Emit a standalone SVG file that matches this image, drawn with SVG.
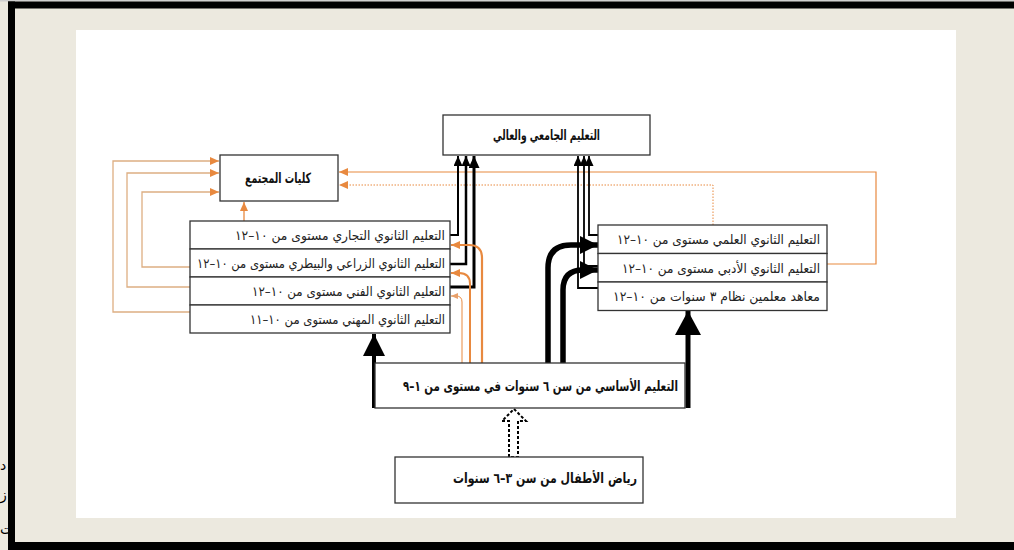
<svg xmlns="http://www.w3.org/2000/svg" width="1014" height="550" viewBox="0 0 1014 550">
<defs>
<style>
.box{fill:#fff;stroke:#333;stroke-width:1.3}
.t{font-family:"DejaVu Sans",sans-serif;font-size:13px;fill:#222;text-anchor:end}
.tb{font-family:"DejaVu Sans",sans-serif;font-size:14px;font-weight:bold;fill:#111}
.k{fill:none;stroke:#000}
.o{fill:none;stroke:#E8893F}
.ol{fill:none;stroke:#DDAE82;stroke-width:1.3}
</style>
<marker id="ak" markerUnits="userSpaceOnUse" markerWidth="10" markerHeight="9" refX="10" refY="4.5" orient="auto"><path d="M0,0 L10,4.5 L0,9 z" fill="#000"/></marker>
<marker id="akm" markerUnits="userSpaceOnUse" markerWidth="12" markerHeight="11" refX="12" refY="5.5" orient="auto"><path d="M0,0 L12,5.5 L0,11 z" fill="#000"/></marker>
<marker id="akl" markerUnits="userSpaceOnUse" markerWidth="18" markerHeight="18" refX="18" refY="9" orient="auto"><path d="M0,0 L18,9 L0,18 z" fill="#000"/></marker>
<marker id="akx" markerUnits="userSpaceOnUse" markerWidth="24" markerHeight="26" refX="24" refY="13" orient="auto"><path d="M0,0 L24,13 L0,26 z" fill="#000"/></marker>
<marker id="akw" markerUnits="userSpaceOnUse" markerWidth="22" markerHeight="22" refX="22" refY="11" orient="auto"><path d="M0,0 L22,11 L0,22 z" fill="#000"/></marker>
<marker id="ao" markerUnits="userSpaceOnUse" markerWidth="9" markerHeight="8" refX="9" refY="4" orient="auto"><path d="M0,0 L9,4 L0,8 z" fill="#E8893F"/></marker>
<marker id="aos" markerUnits="userSpaceOnUse" markerWidth="7" markerHeight="6" refX="7" refY="3" orient="auto"><path d="M0,0 L7,3 L0,6 z" fill="#E8A06A"/></marker>
</defs>
<rect x="0" y="0" width="1014" height="550" fill="#ECE9DF"/>
<g id="edge-text" font-family="DejaVu Sans, sans-serif" font-size="14" fill="#000">
<text x="0" y="470">د</text>
<text x="0" y="500">ز</text>
<text x="0" y="534">ت</text>
</g>
<rect x="0" y="0" width="1014" height="1.5" fill="#cfcfcf"/>
<rect x="8" y="1.5" width="1006" height="7" fill="#000"/>
<rect x="8" y="1.5" width="7" height="548.5" fill="#000"/>
<rect x="8" y="542" width="1006" height="8" fill="#000"/>
<rect x="76" y="30" width="880" height="488" fill="#fff"/>
<g id="connectors">
<path class="ol" d="M190,312 H113 V161 H219" marker-end="url(#ao)"/>
<path class="ol" d="M190,287 H127 V173 H219" marker-end="url(#ao)"/>
<path class="ol" d="M190,267 H142 V192 H219" marker-end="url(#ao)"/>
<path class="o" stroke-width="1.3" d="M244,221 V202" marker-end="url(#ao)"/>
<path class="o" stroke-width="1.2" stroke="#E8A874" d="M827,264 H876 V172 H339" marker-end="url(#ao)"/>
<path class="o" stroke-width="1" stroke-dasharray="1.5 1.5" d="M713,225 V185 H339" marker-end="url(#ao)"/>
<path class="k" stroke-width="2" d="M450,235 H458 V156" marker-end="url(#ak)"/>
<path class="k" stroke-width="2.5" d="M450,264 H466 V156" marker-end="url(#ak)"/>
<path class="k" stroke-width="3" d="M450,287 H474 V156" marker-end="url(#akm)"/>
<path class="k" stroke-width="1.8" d="M598,235 H589 V156" marker-end="url(#ak)"/>
<path class="k" stroke-width="1.8" d="M598,266 H584 V156" marker-end="url(#ak)"/>
<path class="k" stroke-width="1.8" d="M598,288 H578 V156" marker-end="url(#ak)"/>
<path class="o" stroke-width="2.2" d="M482,363 V258 Q482,245 469,245 H451" marker-end="url(#ao)"/>
<path class="o" stroke-width="2" d="M470,363 V284 Q470,273 459,273 H451" marker-end="url(#ao)"/>
<path class="o" stroke-width="1" stroke="#E8A06A" d="M462,363 V302 Q462,296 456,296 H451" marker-end="url(#aos)"/>
<path class="k" stroke-width="5.5" d="M548,363 V268 Q548,245 571,245 H598" marker-end="url(#akl)"/>
<path class="k" stroke-width="5.5" d="M563,363 V290 Q563,270 583,270 H598" marker-end="url(#akl)"/>
<path class="k" stroke-width="5" d="M688,408 V311" marker-end="url(#akx)"/>
<path class="k" stroke-width="4" d="M374,408 V334" marker-end="url(#akw)"/>
<polygon points="509,457 509,421 502,421 514,409 526,421 518,421 518,457" fill="#fff" stroke="#000" stroke-width="2" stroke-dasharray="3 2"/>
</g>
<g id="n-university">
<rect class="box" x="443" y="115" width="207" height="40"/>
<text class="tb" x="600" y="140" text-anchor="end" textLength="107" lengthAdjust="spacingAndGlyphs">التعليم الجامعي والعالي</text>
</g>
<g id="n-colleges">
<rect class="box" x="220" y="155" width="118" height="46"/>
<text class="tb" x="311" y="183" text-anchor="end" textLength="66" lengthAdjust="spacingAndGlyphs">كليات المجتمع</text>
</g>
<g id="n-left-stack">
<rect class="box" x="190" y="221" width="260" height="28"/>
<rect class="box" x="190" y="249" width="260" height="28"/>
<rect class="box" x="190" y="277" width="260" height="28"/>
<rect class="box" x="190" y="305" width="260" height="28"/>
<text class="t" x="445" y="240" textLength="210" lengthAdjust="spacingAndGlyphs">التعليم الثانوي التجاري مستوى من ١٠–١٢</text>
<text class="t" x="445" y="268" textLength="248" lengthAdjust="spacingAndGlyphs">التعليم الثانوي الزراعي والبيطري مستوى من ١٠–١٢</text>
<text class="t" x="445" y="296" textLength="193" lengthAdjust="spacingAndGlyphs">التعليم الثانوي الفني مستوى من ١٠–١٢</text>
<text class="t" x="445" y="324" textLength="195" lengthAdjust="spacingAndGlyphs">التعليم الثانوي المهني مستوى من ١٠–١١</text>
</g>
<g id="n-right-stack">
<rect class="box" x="598" y="225" width="229" height="28.5"/>
<rect class="box" x="598" y="253.5" width="229" height="28.5"/>
<rect class="box" x="598" y="282" width="229" height="28.5"/>
<text class="t" x="820" y="244" textLength="203" lengthAdjust="spacingAndGlyphs">التعليم الثانوي العلمي مستوى من ١٠–١٢</text>
<text class="t" x="820" y="273" textLength="198" lengthAdjust="spacingAndGlyphs">التعليم الثانوي الأدبي مستوى من ١٠–١٢</text>
<text class="t" x="820" y="301" textLength="207" lengthAdjust="spacingAndGlyphs">معاهد معلمين نظام ٣ سنوات من ١٠–١٢</text>
</g>
<g id="n-basic">
<rect class="box" x="375" y="363" width="310" height="45"/>
<text class="tb" x="678" y="391" text-anchor="end" font-size="15" textLength="275" lengthAdjust="spacingAndGlyphs">التعليم الأساسي من سن ٦ سنوات في مستوى من ١–٩</text>
</g>
<g id="n-kg">
<rect class="box" x="395" y="457" width="248" height="46"/>
<text class="tb" x="637" y="483" text-anchor="end" textLength="184" lengthAdjust="spacingAndGlyphs">رياض الأطفال من سن ٣–٦ سنوات</text>
</g>
</svg>
